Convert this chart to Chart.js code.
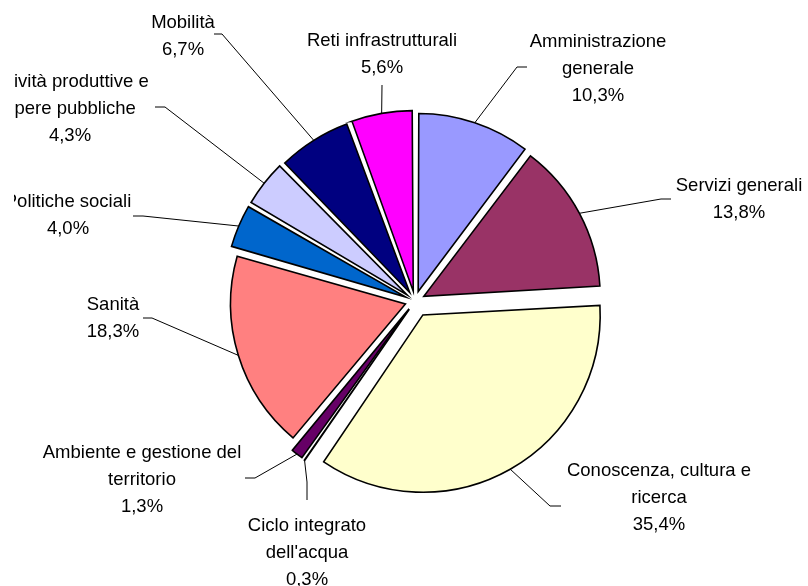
<!DOCTYPE html>
<html><head><meta charset="utf-8">
<script src="https://cdn.jsdelivr.net/npm/chart.js@4.4.0/dist/chart.umd.min.js"></script>
<style>html,body{margin:0;padding:0;background:#fff;overflow:hidden}#wrap{width:808px;height:586px}</style>
</head><body><div id="wrap"><canvas id="c" width="808" height="586"></canvas></div>
<script>
const categories = ['Amministrazione generale','Servizi generali','Conoscenza, cultura e ricerca',"Ciclo integrato dell'acqua",'Ambiente e gestione del territorio','Sanità','Politiche sociali','Attività produttive e opere pubbliche','Mobilità','Reti infrastrutturali'];
const shares = [10.3,13.8,35.4,0.3,1.3,18.3,4.0,4.3,6.7,5.6];
const colors = ['#9999FF','#993366','#FFFFCC','#CCFFFF','#660066','#FF8080','#0066CC','#CCCCFF','#000080','#FF00FF'];
const explode = [10,10,16,10,10,10,10,10,10,10];
// label layout: centre x, first line cap-middle y, wrap width, leader hook points (label side first)
const labelLayout = [
  {x:598, y:40,  w:150, hook:[[527,67],[517,67]]},
  {x:739, y:184, w:220, hook:[[671,199],[661,199]]},
  {x:659, y:469, w:200, hook:[[561,506],[550,506]]},
  {x:307, y:524, w:130, hook:[[307,500],[307,482]]},
  {x:142, y:451, w:210, hook:[[245,478],[255,478]]},
  {x:113, y:303, w:100, hook:[[143,318],[152,318]]},
  {x:68,  y:200, w:200, hook:[[133,216],[143,216]]},
  {x:70,  y:80,  w:160, hook:[[155,107],[165,107]]},
  {x:183, y:21,  w:100, hook:[[214,34],[222,34]]},
  {x:382, y:39,  w:220, hook:[[382,85]]}
];
const FONT_SIZE = 18.5, LINE_H = 27, CLIP_LEFT = 14;

function wrap(ctx, text, w){
  const words = text.split(' '); const lines=[]; let cur='';
  for(const wd of words){
    const t = cur ? cur+' '+wd : wd;
    if(cur && ctx.measureText(t).width > w){ lines.push(cur); cur = wd; } else cur = t;
  }
  if(cur) lines.push(cur);
  return lines;
}

const labelPlugin = {
  id:'pieLabels',
  afterDatasetsDraw(chart){
    const ctx = chart.ctx;
    const meta = chart.getDatasetMeta(0);
    ctx.save();
    ctx.beginPath();
    ctx.rect(CLIP_LEFT, 0, chart.width - CLIP_LEFT, chart.height);
    ctx.clip();
    ctx.font = FONT_SIZE+'px "Liberation Sans", Arial, sans-serif';
    ctx.fillStyle = '#000';
    ctx.textAlign = 'center';
    ctx.textBaseline = 'alphabetic';
    meta.data.forEach((arc,i)=>{
      const p = arc.getProps(['x','y','startAngle','endAngle','outerRadius','circumference'], true);
      const off = (arc.options.offset||0)/4;
      const fix = 1 - Math.sin(Math.min(Math.PI, p.circumference));
      const mid = (p.startAngle+p.endAngle)/2;
      const r = off + p.outerRadius + off*fix;
      const ax = p.x + Math.cos(mid)*r, ay = p.y + Math.sin(mid)*r;
      const L = labelLayout[i];
      ctx.beginPath();
      ctx.strokeStyle = '#000'; ctx.lineWidth = 1;
      ctx.moveTo(L.hook[0][0], L.hook[0][1]);
      for(let k=1;k<L.hook.length;k++) ctx.lineTo(L.hook[k][0], L.hook[k][1]);
      ctx.lineTo(ax, ay);
      ctx.stroke();
      const lines = wrap(ctx, categories[i], L.w);
      lines.push(shares[i].toFixed(1).replace('.',',')+'%');
      lines.forEach((ln,k)=>{
        ctx.fillText(ln, L.x, L.y + k*LINE_H + 0.358*FONT_SIZE);
      });
    });
    ctx.restore();
  }
};

new Chart(document.getElementById('c'), {
  type:'pie',
  data:{
    labels: categories,
    datasets:[{
      data: shares,
      backgroundColor: colors,
      borderColor:'#000',
      borderWidth:1.6,
      borderJoinStyle:'miter',
      offset: (c)=>4*explode[c.dataIndex],
      radius:174
    }]
  },
  options:{
    responsive:false,
    devicePixelRatio:1,
    animation:false,
    layout:{padding:{left:22,top:16,right:0,bottom:0}},
    plugins:{legend:{display:false},tooltip:{enabled:false}}
  },
  plugins:[labelPlugin]
});
</script>
</body></html>
